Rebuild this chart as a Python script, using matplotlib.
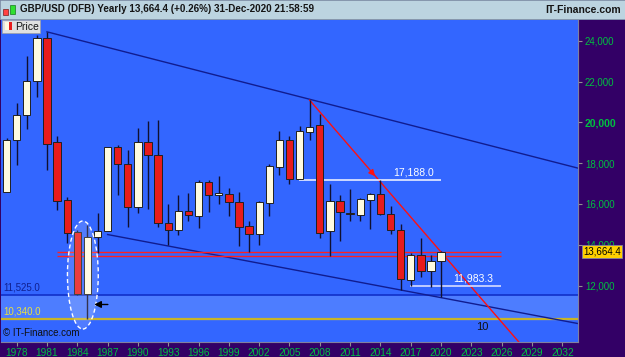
import numpy as np
import matplotlib
matplotlib.use("Agg")
import matplotlib.pyplot as plt
from matplotlib.patches import Rectangle, Ellipse

plt.rcParams['font.family'] = ['Liberation Sans', 'DejaVu Sans']

# Yearly GBP/USD (DFB) candles, values x 10000
years = list(range(1977, 2021))
opens = [16600, 19150, 20380, 22020, 24160, 19020, 16175, 14600, 11560, 14370,
         14690, 18810, 17975, 15850, 19050, 18400, 15060, 14730, 15630, 15420,
         17090, 16420, 16500, 16110, 14930, 14520, 16060, 17830, 19155, 17220,
         19545, 19855, 14665, 16125, 15570, 15470, 16210, 16500, 15520, 14735,
         12295, 13473, 12700, 13210]
highs = [19250, 20950, 23240, 24300, 24440, 19350, 16340, 14700, 14950, 15550,
         18810, 18900, 18630, 19740, 20070, 20100, 15980, 16450, 16530, 17190,
         17190, 17350, 16800, 16570, 15140, 16140, 17940, 19575, 19315, 19820,
         21085, 20400, 16990, 16450, 16750, 16300, 16550, 17188, 15910, 14995,
         13605, 14320, 13505, 13700]
lows = [16600, 17890, 19660, 21250, 17650, 15680, 14080, 11525, 10340, 13590,
        14690, 16420, 14860, 15550, 15765, 14860, 14010, 14490, 15140, 14810,
        15600, 16010, 15390, 13915, 13640, 14010, 15400, 17415, 16990, 17220,
        19120, 14320, 13470, 14175, 15160, 15160, 14750, 15470, 14540, 11790,
        11983, 12410, 11915, 11425]
closes = [19150, 20380, 22020, 24160, 18960, 16140, 14570, 11560, 14370, 14690,
          18810, 17975, 15850, 19050, 18400, 15060, 14730, 15650, 15470, 17090,
          16420, 16520, 16110, 14860, 14520, 16075, 17845, 19155, 17220, 19560,
          19790, 14590, 16125, 15600, 15500, 16220, 16500, 15520, 14735, 12330,
          13473, 12700, 13210, 13664.4]

y_ticks = [12000, 14000, 16000, 18000, 20000, 22000, 24000]
x_ticks = list(range(1978, 2033, 3))

last_price = 13664.4
support_low = 10340.0
support_1984 = 11525.0
level_2014 = 17188.0
level_2017 = 11983.3

BG = "#3366ff"
AXBG = "#330066"
GREEN = "#00c040"
CREAM = "#fffbe0"
RED = "#e81c1c"

fig = plt.figure(figsize=(6.25, 3.57), dpi=100)
fig.patch.set_facecolor(AXBG)
W, H = 625, 357
ax = fig.add_axes([1 / W, 1 - 341.5 / H, 577 / W, 321.5 / H])
ax.set_facecolor(BG)
ax.set_xlim(1976.45, 2033.55)
ax.set_ylim(9255, 25020)

# band between the two supports
ax.axhspan(support_low, support_1984, color="#4d7dff", zorder=0)
ax.axhline(support_1984, color="#1030c8", lw=1.2, zorder=1)
ax.axhline(support_low, color="#c8b428", lw=1.6, zorder=1)
ax.text(1976.7, support_1984 + 120, "11,525.0", color="#102090", fontsize=7, va="bottom")
ax.text(1976.7, support_low + 140, "10,340.0", color="#e8e040", fontsize=7, va="bottom")

# channel lines
ax.plot([1981, 2033.6], [24440, 17750], color="#101c90", lw=1, zorder=2)
ax.plot([1987, 2033.6], [14500, 10130], color="#101c90", lw=1, zorder=2)

# red resistance
ax.hlines([13620, 13460], 1982, 2025.9, color="#ff2020", lw=1, zorder=2)
ax.plot([2007, 2028.5], [21085, 8770], color="#ff1010", lw=1, zorder=2)
ax.annotate("", xy=(2013.65, 17260), xytext=(2012.9, 17690),
            arrowprops=dict(arrowstyle="-|>", color="#ff1010", lw=1, mutation_scale=9), zorder=3)

# white levels
ax.hlines(level_2014, 2005.9, 2020.0, color="#e8ecff", lw=1.2, zorder=2)
ax.text(2017.3, level_2014 + 130, "17,188.0", color="white", fontsize=7.5, ha="center", va="bottom")
ax.hlines(level_2017, 2016.9, 2025.9, color="#d8dcff", lw=1.2, zorder=2)
ax.text(2023.2, level_2017 + 130, "11,983.3", color="white", fontsize=7.5, ha="center", va="bottom")

# candles
o = np.array(opens, dtype=float)
c = np.array(closes, dtype=float)
up = c >= o
ax.vlines(years, lows, highs, color="#101030", lw=1, zorder=3)
ax.bar(years, np.maximum(np.abs(c - o), 40), bottom=np.minimum(o, c), width=0.72,
       color=[CREAM if u else RED for u in up], edgecolor="#202020", lw=0.7, zorder=4)

# 1984-85 low marker
ax.add_patch(Ellipse((1984.55, 12516), 3.05, 5300, facecolor=(1, 1, 1, 0.15),
                     edgecolor="white", ls=(0, (3, 2)), lw=1, zorder=5))
ax.annotate("", xy=(1985.4, 11070), xytext=(1987.3, 11070),
            arrowprops=dict(arrowstyle="-|>", color="black", lw=1, mutation_scale=10), zorder=5)
ax.text(2024.1, 9950, "10", color="#101010", fontsize=8, ha="center", va="center")
ax.text(0.004, 0.018, "© IT-Finance.com", transform=ax.transAxes, fontsize=7, color="#101010")

# axes styling
ax.yaxis.tick_right()
ax.set_yticks(y_ticks)
ax.set_yticklabels([f"{v:,}" for v in y_ticks])
ax.set_xticks(x_ticks)
ax.set_xticklabels([str(v) for v in x_ticks])
ax.tick_params(colors="#909090", labelcolor=GREEN, labelsize=7, length=3, pad=2)
ax.tick_params(axis="x", labelsize=7.3)
for lbl in ax.get_yticklabels():
    if lbl.get_text() == "20,000":
        lbl.set_fontweight("bold")
        lbl.set_fontsize(7.5)
for s in ["left", "top"]:
    ax.spines[s].set_visible(False)
for s in ["right", "bottom"]:
    ax.spines[s].set_color("#8080a0")

# current price tag
ax.annotate(f"{last_price:,.1f}", xy=(1.0, last_price), xycoords=("axes fraction", "data"),
            xytext=(4, 0), textcoords="offset points", fontsize=7, color="black", va="center",
            bbox=dict(boxstyle="square,pad=0.12", fc="#ffd000", ec="#8080a0", lw=0.6),
            annotation_clip=False, zorder=6)

# header bar
fig.patches.append(Rectangle((0, 1 - 19 / H), 1, 19 / H, transform=fig.transFigure,
                             facecolor="#bcd4e0", edgecolor="#8aa0b0", lw=0.6))
fig.patches.append(Rectangle((3 / W, 1 - 15 / H), 5 / W, 6 / H, transform=fig.transFigure,
                             facecolor="#ff4040", edgecolor="#600000", lw=0.4))
fig.patches.append(Rectangle((10 / W, 1 - 14 / H), 5 / W, 9 / H, transform=fig.transFigure,
                             facecolor="#30e030", edgecolor="#006000", lw=0.4))
fig.text(20 / W, 1 - 9.5 / H, "GBP/USD (DFB) Yearly 13,664.4 (+0.26%) 31-Dec-2020 21:58:59",
         fontsize=7.1, fontweight="bold", color="#151515", va="center")
fig.text(621 / W, 1 - 10 / H, "IT-Finance.com", fontsize=7.5, fontweight="bold",
         color="#151515", va="center", ha="right")

# "Price" legend box
fig.patches.append(Rectangle((2 / W, 1 - 33 / H), 38 / W, 13 / H, transform=fig.transFigure,
                             facecolor="#e0e0e0", edgecolor="#a0a0a0", lw=0.5, zorder=10))
fig.patches.append(Rectangle((5 / W, 1 - 30 / H), 7 / W, 8 / H, transform=fig.transFigure,
                             facecolor="#fff8e0", edgecolor="none", zorder=11))
fig.patches.append(Rectangle((9 / W, 1 - 30 / H), 3 / W, 8 / H, transform=fig.transFigure,
                             facecolor="#e81c1c", edgecolor="none", zorder=11))
fig.text(15 / W, 1 - 26.5 / H, "Price", fontsize=7.5, color="#151515", va="center", zorder=12)

fig.savefig("out.png", dpi=100, facecolor=fig.get_facecolor())
